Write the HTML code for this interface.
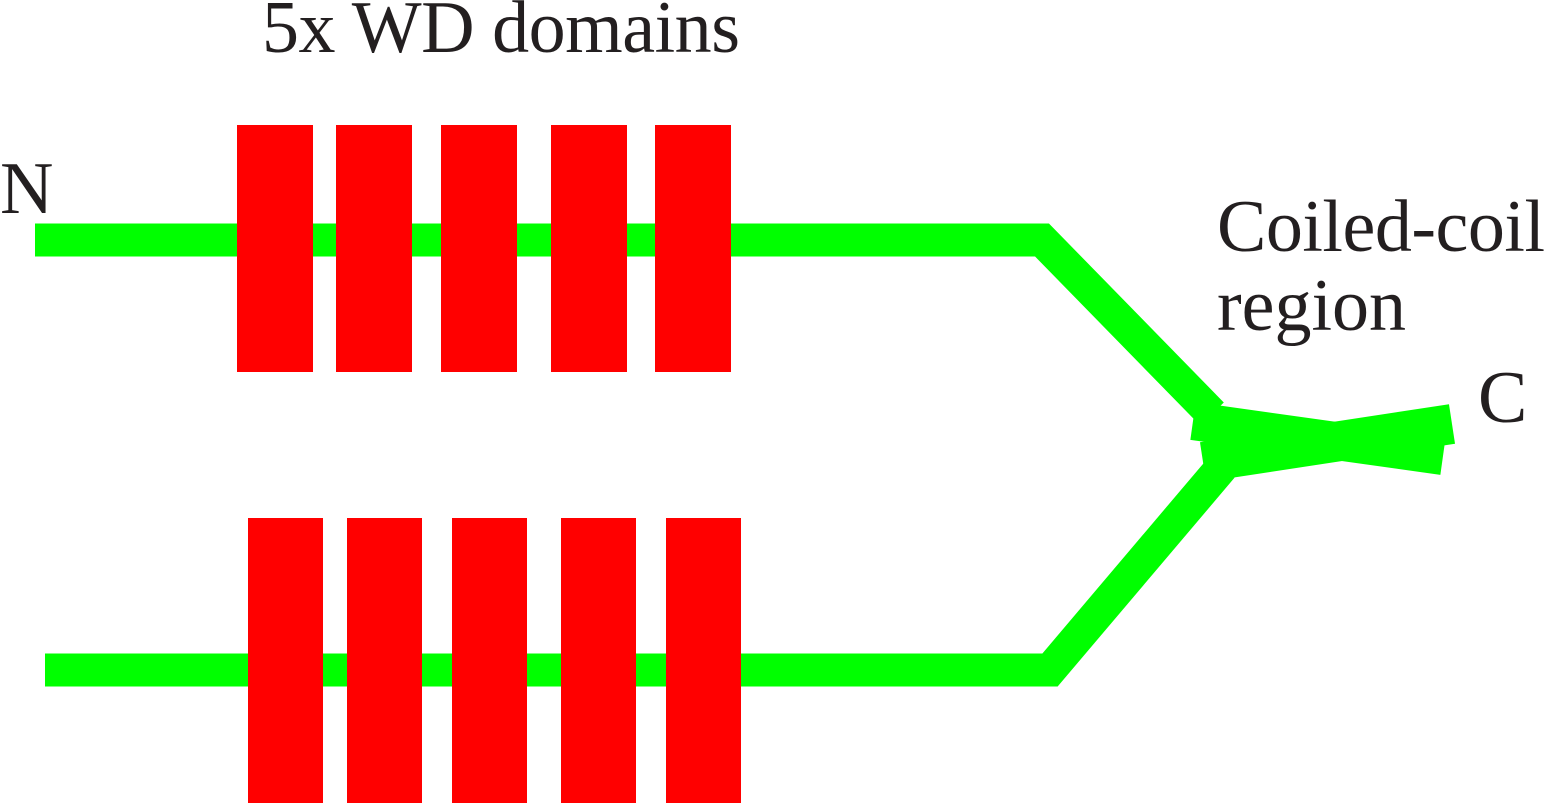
<!DOCTYPE html>
<html><head><style>
html,body{margin:0;padding:0;background:#fff;}
svg{display:block;}
text{font-family:"Liberation Serif","Times New Roman",serif;font-size:74px;fill:#231f20;}
</style></head><body>
<svg width="1546" height="803" viewBox="0 0 1546 803" xmlns="http://www.w3.org/2000/svg">
<g fill="none" stroke="#00ff00" stroke-width="33" stroke-linejoin="miter" stroke-linecap="butt">
<polyline points="35,240 1042,240 1212,414"/>
<line x1="1193" y1="421" x2="1443" y2="456" stroke-width="38"/>
<polyline points="45,670 1050,670 1222,467"/>
<line x1="1203" y1="462" x2="1452" y2="424" stroke-width="40"/>
</g>
<g fill="#ff0000">
<rect x="237" y="125" width="76" height="247"/>
<rect x="336" y="125" width="76" height="247"/>
<rect x="441" y="125" width="76" height="247"/>
<rect x="551" y="125" width="76" height="247"/>
<rect x="655" y="125" width="76" height="247"/>
<rect x="248" y="518" width="75" height="285"/>
<rect x="347" y="518" width="75" height="285"/>
<rect x="452" y="518" width="75" height="285"/>
<rect x="561" y="518" width="75" height="285"/>
<rect x="666" y="518" width="75" height="285"/>
</g>
<text x="262" y="52" textLength="478">5x WD domains</text>
<text x="0" y="213">N</text>
<text x="1217" y="251" textLength="328">Coiled-coil</text>
<text x="1217" y="330">region</text>
<text x="1478" y="422">C</text>
</svg>
</body></html>
